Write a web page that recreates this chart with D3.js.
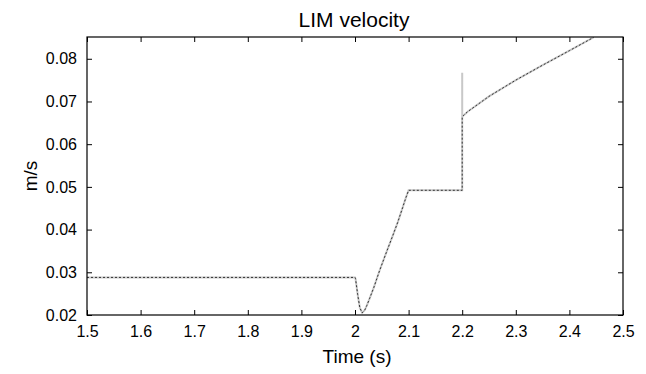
<!DOCTYPE html>
<html>
<head>
<meta charset="utf-8">
<script src="https://cdn.jsdelivr.net/npm/d3@7"></script>
<style>
  body { margin: 0; background: #fff; }
  text { font-family: "Liberation Sans", Arial, sans-serif; fill: #000; }
</style>
</head>
<body>
<div id="chart"></div>
<script>
// reference trace (light grey, solid)
const refTime = [1.5, 2.0, 2.001, 2.005, 2.009, 2.0134, 2.018, 2.022, 2.027, 2.035, 2.0456, 2.058, 2.0705, 2.08, 2.089, 2.095, 2.1,
                 2.2, 2.2, 2.2, 2.203, 2.21, 2.25, 2.3, 2.35, 2.4, 2.445];
const refVel  = [0.0288, 0.0288, 0.0285, 0.0248, 0.0217, 0.0205, 0.0211, 0.0222, 0.0238, 0.0264, 0.0303, 0.0345, 0.0386, 0.0418, 0.0452, 0.0475, 0.0492,
                 0.0492, 0.0767, 0.0664, 0.0668, 0.0676, 0.0712, 0.0750, 0.0785, 0.0819, 0.0850];
// simulated trace (black, dashed)
const simTime = [1.5, 2.0, 2.001, 2.005, 2.009, 2.0134, 2.018, 2.022, 2.027, 2.035, 2.0456, 2.058, 2.0705, 2.08, 2.089, 2.095, 2.1,
                 2.2, 2.2, 2.203, 2.21, 2.25, 2.3, 2.35, 2.4, 2.445];
const simVel  = [0.0288, 0.0288, 0.0285, 0.0248, 0.0217, 0.0205, 0.0211, 0.0222, 0.0238, 0.0264, 0.0303, 0.0345, 0.0386, 0.0418, 0.0452, 0.0475, 0.0492,
                 0.0492, 0.0664, 0.0668, 0.0676, 0.0712, 0.0750, 0.0785, 0.0819, 0.0850];

const xTicks = [1.5, 1.6, 1.7, 1.8, 1.9, 2, 2.1, 2.2, 2.3, 2.4, 2.5];
const yTicks = [0.02, 0.03, 0.04, 0.05, 0.06, 0.07, 0.08];

const width = 646, height = 374;
const margin = { top: 37, right: 23, bottom: 59, left: 87 };
const w = width - margin.left - margin.right;
const h = height - margin.top - margin.bottom;

const x = d3.scaleLinear().domain([1.5, 2.5]).range([0, w]);
const y = d3.scaleLinear().domain([0.02, 0.0851]).range([h, 0]);

const svg = d3.select('#chart').append('svg')
  .attr('width', width)
  .attr('height', height);

const g = svg.append('g')
  .attr('transform', 'translate(' + margin.left + ',' + margin.top + ')');

g.append('defs').append('clipPath').attr('id', 'clip')
  .append('rect').attr('width', w).attr('height', h);

const line = d3.line()
  .x(d => x(d[0]))
  .y(d => y(d[1]));

const plot = g.append('g').attr('clip-path', 'url(#clip)');

plot.append('path')
  .datum(d3.zip(refTime, refVel))
  .attr('fill', 'none')
  .attr('stroke', '#c8c8c8')
  .attr('stroke-width', 2)
  .attr('d', line);

plot.append('path')
  .datum(d3.zip(simTime, simVel))
  .attr('fill', 'none')
  .attr('stroke', '#333')
  .attr('stroke-width', 1)
  .attr('stroke-dasharray', '2,2')
  .attr('d', line);

// axes, ticks inward on all four sides
g.append('g')
  .attr('transform', 'translate(0,' + h + ')')
  .call(d3.axisBottom(x).tickValues(xTicks).tickSizeInner(-5).tickSizeOuter(0).tickPadding(11).tickFormat(d3.format('')));
g.append('g')
  .call(d3.axisTop(x).tickValues(xTicks).tickSizeInner(-5).tickSizeOuter(0).tickFormat(''));
g.append('g')
  .call(d3.axisLeft(y).tickValues(yTicks).tickSizeInner(-5).tickSizeOuter(0).tickPadding(10).tickFormat(d3.format('.2f')));
g.append('g')
  .attr('transform', 'translate(' + w + ',0)')
  .call(d3.axisRight(y).tickValues(yTicks).tickSizeInner(-5).tickSizeOuter(0).tickFormat(''));

g.selectAll('.domain').remove();
g.selectAll('.tick line').attr('stroke', '#000');
g.selectAll('.tick text').style('font-size', '16px');

g.append('rect')
  .attr('width', w).attr('height', h)
  .attr('fill', 'none').attr('stroke', '#000').attr('stroke-width', 1.2);

svg.append('text')
  .attr('x', 354).attr('y', 27)
  .attr('text-anchor', 'middle')
  .style('font-size', '21px')
  .text('LIM velocity');

svg.append('text')
  .attr('x', 357).attr('y', 363)
  .attr('text-anchor', 'middle')
  .style('font-size', '19px')
  .text('Time (s)');

svg.append('text')
  .attr('transform', 'translate(37,' + (margin.top + h / 2) + ') rotate(-90)')
  .attr('text-anchor', 'middle')
  .style('font-size', '19px')
  .text('m/s');
</script>
</body>
</html>
